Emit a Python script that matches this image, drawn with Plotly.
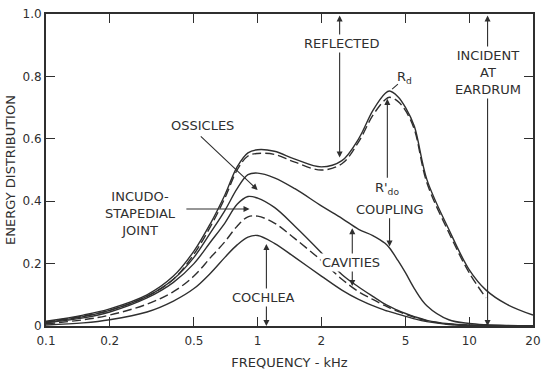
import numpy as np
import plotly.graph_objects as go

# Frequency grid (kHz) at which curve values were tabulated
freq = [0.1, 0.15, 0.2, 0.3, 0.4, 0.5, 0.6, 0.7, 0.8, 0.9, 1.0, 1.2, 1.5, 2.0,
        2.5, 3.0, 3.5, 4.0, 4.2, 4.6, 5.0, 5.5, 6.3, 8.0, 10.0, 12.0, 15.0, 20.0]

# Reflected energy at the drum, Rd (solid)
rd = [0.015, 0.035, 0.055, 0.10, 0.16, 0.24, 0.33, 0.42, 0.51, 0.555, 0.565, 0.56, 0.535, 0.51,
      0.53, 0.60, 0.69, 0.745, 0.753, 0.735, 0.70, 0.64, 0.47, 0.31, 0.18, 0.115, 0.07, 0.035]

# Reflected energy, R'do (dashed), ends near 12 kHz
freq_rdo = freq[:26]
rdo = [0.013, 0.032, 0.05, 0.095, 0.15, 0.23, 0.32, 0.41, 0.50, 0.545, 0.553, 0.55, 0.525, 0.50,
       0.52, 0.59, 0.675, 0.725, 0.733, 0.72, 0.69, 0.63, 0.46, 0.30, 0.17, 0.09]

# Energy absorbed by coupling
coupling = [0.012, 0.03, 0.05, 0.095, 0.15, 0.22, 0.30, 0.37, 0.44, 0.485, 0.49, 0.475, 0.44, 0.385,
            0.345, 0.31, 0.29, 0.265, 0.25, 0.21, 0.17, 0.12, 0.065, 0.02, 0.008, 0.004, 0.002, 0.001]

# Energy delivered past the incudo-stapedial joint
incudo = [0.01, 0.026, 0.045, 0.09, 0.14, 0.2, 0.27, 0.33, 0.39, 0.415, 0.41, 0.38, 0.32, 0.235,
          0.165, 0.125, 0.095, 0.07, 0.063, 0.05, 0.04, 0.03, 0.018, 0.007, 0.003, 0.002, 0.001, 0.0]

# Intermediate (dashed) curve
dashed = [0.007, 0.02, 0.035, 0.07, 0.11, 0.16, 0.22, 0.27, 0.32, 0.35, 0.352, 0.33, 0.28, 0.21,
          0.15, 0.11, 0.085, 0.065, 0.058, 0.047, 0.038, 0.028, 0.017, 0.006, 0.003, 0.001, 0.0, 0.0]

# Energy delivered to the cochlea
cochlea = [0.003, 0.01, 0.02, 0.045, 0.08, 0.12, 0.17, 0.22, 0.26, 0.285, 0.29, 0.265, 0.22, 0.16,
           0.115, 0.085, 0.065, 0.05, 0.046, 0.038, 0.031, 0.023, 0.014, 0.005, 0.002, 0.001, 0.0, 0.0]

x_ticks = [0.1, 0.2, 0.5, 1, 2, 5, 10, 20]
x_ticktext = ["0.1", "0.2", "0.5", "1", "2", "5", "10", "20"]
y_ticks = [0, 0.2, 0.4, 0.6, 0.8, 1.0]
y_ticktext = ["0", "0.2", "0.4", "0.6", "0.8", "1.0"]

INK = "#2f2f2f"
FONT = "DejaVu Sans"
TXT = 13

fig = go.Figure()

def curve(xs, ys, dash="solid"):
    fig.add_trace(go.Scatter(
        x=xs, y=ys, mode="lines",
        line=dict(color=INK, width=1.4, dash=dash, shape="spline", smoothing=1.0),
        showlegend=False, hoverinfo="skip"))

curve(freq, rd)
curve(freq_rdo, rdo, dash="9px,4px")
curve(freq, coupling)
curve(freq, incudo)
curve(freq, dashed, dash="9px,4px")
curve(freq, cochlea)

L = np.log10


def arrow(x0, y0, x1, y1, both=False, head=True):
    # line from (x0, y0) to (x1, y1); arrowhead at (x1, y1)
    fig.add_annotation(
        x=L(x1), y=y1, ax=L(x0), ay=y0, xref="x", yref="y", axref="x", ayref="y",
        text="", showarrow=True, arrowhead=2 if head else 0, arrowsize=1.1,
        arrowwidth=1.1, arrowcolor=INK,
        arrowside="end+start" if both else "end", startarrowhead=2, startarrowsize=1.1)


def label(x, y, text, size=TXT, bg=None):
    fig.add_annotation(
        x=L(x), y=y, xref="x", yref="y", text=text, showarrow=False,
        font=dict(family=FONT, size=size, color=INK), align="center",
        xanchor="center", yanchor="middle",
        bgcolor=bg if bg else "rgba(0,0,0,0)", borderpad=1)


# Reflected: from full scale down to Rd
arrow(2.44, 1.0, 2.44, 0.54, both=True)
label(2.49, 0.907, "REFLECTED", bg="white")

# Incident at eardrum: full scale
arrow(12.2, 1.0, 12.2, 0.0, both=True)
label(12.2, 0.814, "INCIDENT<br>AT<br>EARDRUM", bg="white")

# Rd leader
arrow(4.25, 0.755, 4.6, 0.775, head=False)
label(4.95, 0.795, "R<sub>d</sub>")

# R'do pointer
arrow(4.1, 0.47, 4.1, 0.728)
label(4.1, 0.44, "R'<sub>do</sub>")

# Coupling
label(4.2, 0.372, "COUPLING")
arrow(4.2, 0.35, 4.2, 0.255)

# Cavities
arrow(2.8, 0.318, 2.8, 0.128, both=True)
label(2.75, 0.205, "CAVITIES", bg="white")

# Cochlea
arrow(1.1, 0.268, 1.1, 0.0, both=True)
label(1.07, 0.09, "COCHLEA", bg="white")

# Ossicles
label(0.55, 0.644, "OSSICLES")
arrow(0.53, 0.612, 1.0, 0.436)

# Incudo-stapedial joint
label(0.28, 0.362, "INCUDO-<br>STAPEDIAL<br>JOINT")
arrow(0.453, 0.375, 0.916, 0.375)

axis_common = dict(
    showline=True, linewidth=2, linecolor=INK, mirror="ticks",
    ticks="inside", ticklen=9, tickwidth=1.3, tickcolor=INK,
    showgrid=False, zeroline=False, automargin=False,
    tickfont=dict(family=FONT, size=12, color=INK),
)

fig.update_xaxes(
    type="log", range=[L(0.1), L(20)], tickvals=x_ticks, ticktext=x_ticktext,
    ticklabelstandoff=3,
    title=dict(text="FREQUENCY - kHz", font=dict(family=FONT, size=13, color=INK), standoff=10),
    **axis_common)
fig.update_yaxes(
    range=[0, 1.0], tickvals=y_ticks, ticktext=y_ticktext,
    title=dict(text="ENERGY DISTRIBUTION", font=dict(family=FONT, size=13, color=INK), standoff=4),
    **axis_common)

fig.update_layout(
    width=543, height=375,
    margin=dict(l=46, r=10, t=14, b=49),
    plot_bgcolor="white", paper_bgcolor="white",
)

fig.write_html("out.html")
